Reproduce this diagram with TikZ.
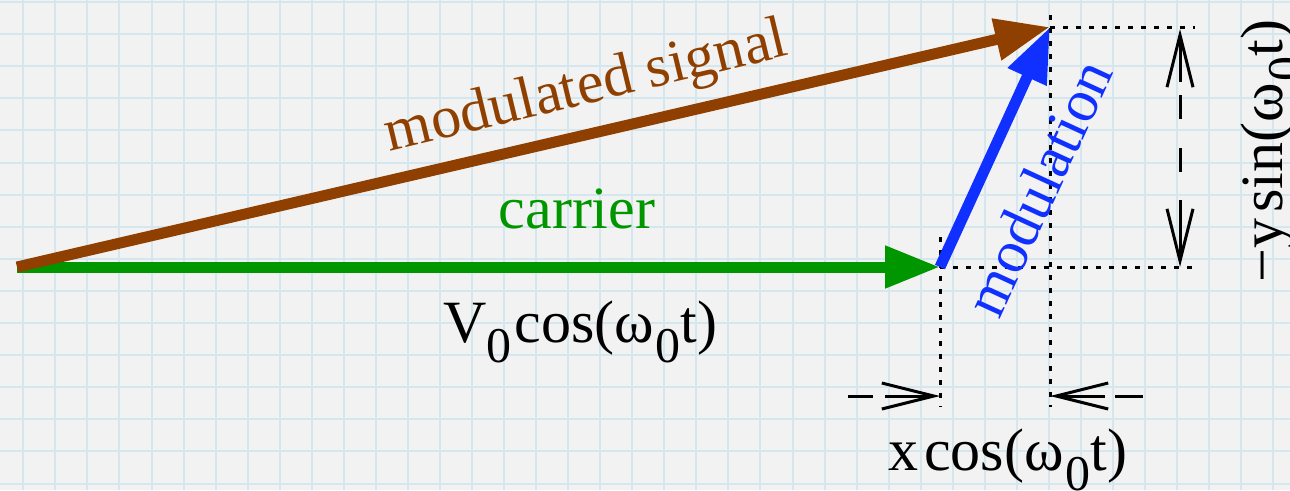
\documentclass[tikz,border=0pt]{standalone}
\usepackage{fontspec}
\setmainfont{Liberation Serif}
\usetikzlibrary{arrows.meta}
\definecolor{bgc}{RGB}{242,242,242}
\definecolor{gridc}{RGB}{212,231,238}
\definecolor{brownc}{RGB}{143,64,0}
\definecolor{greenc}{RGB}{0,150,0}
\definecolor{bluec}{RGB}{16,48,255}
\newcommand\lowsub[1]{\raisebox{-20pt}{\fontsize{50}{60}\selectfont #1}}
\begin{document}
\begin{tikzpicture}[x=1pt,y=-1pt,
  lbl/.style={inner sep=0pt, font=\rmfamily\fontsize{60}{70}\selectfont},
  vec/.style={line width=11pt, -{Triangle[length=55pt,width=40pt]}},
  dotl/.style={line width=3pt, dash pattern=on 5pt off 8pt},
  dimtip/.style={line width=3pt, -{Straight Barb[length=52pt,width=26pt]}},
  dimdash/.style={line width=3pt},
  gridline/.style={gridc, line width=2pt}
]
\fill[bgc] (0,0) rectangle (1290,490);
\useasboundingbox (0,0) rectangle (1290,490);
% grid
\foreach \i in {0,...,39} \draw[gridline] ({23.3+32.05*\i},0) -- ({23.3+32.05*\i},490);
\foreach \j in {0,...,15} \draw[gridline] (0,{2+32.1*\j}) -- (1290,{2+32.1*\j});

% key points
\coordinate (O) at (17,267);
\coordinate (C) at (940,267);
\coordinate (M) at (1050,27);

% dotted projection lines
\coordinate (d1a) at (1195,27);
\coordinate (d2a) at (1195,267);
\coordinate (d3a) at (940,237);
\coordinate (d3b) at (940,407);
\coordinate (d4a) at (1050,15);
\coordinate (d4b) at (1050,407);
\draw[dotl] (M) -- (d1a);
\draw[dotl] (C) -- (d2a);
\draw[dotl] (d3a) -- (d3b);
\draw[dotl] (d4a) -- (d4b);

% vectors
\draw[vec, greenc] (O) -- (C);
\draw[vec, brownc] (O) -- (M);
\draw[vec, bluec] (C) -- (M);

% vertical dimension
\coordinate (vt) at (1180,29);
\coordinate (vts) at (1180,82);
\coordinate (vb) at (1180,267);
\coordinate (vbs) at (1180,200);
\coordinate (vd1) at (1180,95);
\draw[dimtip] (vts) -- (vt);
\draw[dimtip] (vbs) -- (vb);
\draw[dimdash, dash pattern=on 24pt off 29pt] (vd1) -- (vbs);

% horizontal dimension
\coordinate (hl0) at (848,396);
\coordinate (hl1) at (873,396);
\coordinate (hls) at (885,396);
\coordinate (hlt) at (940,396);
\coordinate (hrt) at (1050,396);
\coordinate (hrs) at (1105,396);
\coordinate (hr1) at (1115,396);
\coordinate (hr0) at (1143,396);
\draw[dimdash] (hl0) -- (hl1);
\draw[dimtip] (hls) -- (hlt);
\draw[dimtip] (hrs) -- (hrt);
\draw[dimdash] (hr1) -- (hr0);

% labels
\node[lbl, text=brownc, anchor=base, rotate=13.5] (lms) at (590,103) {modulated signal};
\node[lbl, text=greenc, anchor=base] (lcar) at (577,228) {carrier};
\node[lbl, anchor=base west] (lv) at (443,342) {V\lowsub{0}\kern3pt cos(ω\kern2pt\lowsub{0}t)};
\node[lbl, text=bluec, anchor=base, rotate=65.3] (lmod) at (1057,196) {modulation};
\node[lbl, anchor=base west] (lx) at (888,470) {x\kern6pt cos(ω\kern2pt\lowsub{0}t)};
\node[lbl, anchor=base west, rotate=90] (ly) at (1282,283) {−y\kern6pt sin(ω\kern2pt\lowsub{0}t)};
\end{tikzpicture}
\end{document}
